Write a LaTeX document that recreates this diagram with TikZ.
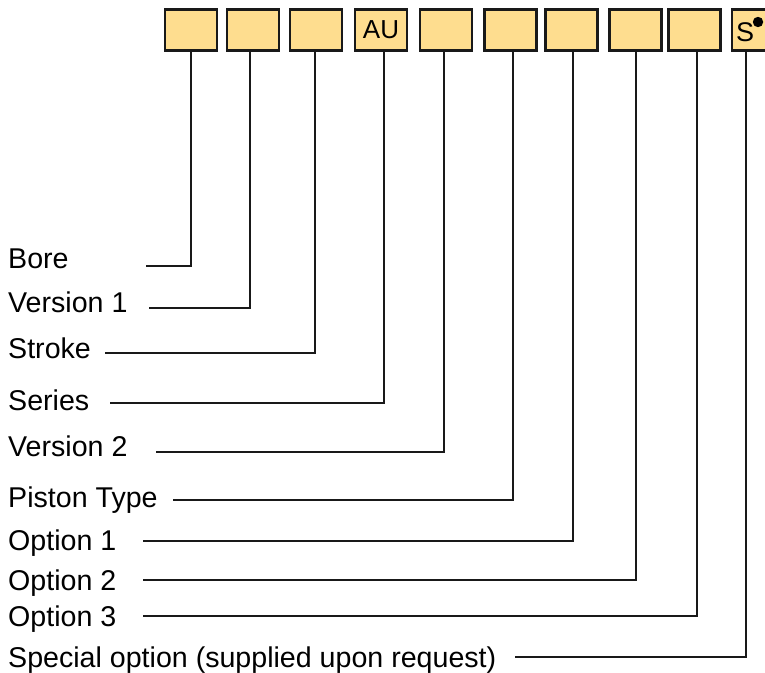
\documentclass[tikz,border=0pt]{standalone}
\usepackage{fontspec}
\setmainfont{Liberation Sans}
\definecolor{boxfill}{RGB}{254,221,143}
\begin{document}
\begin{tikzpicture}[x=1pt,y=-1pt,
  codebox/.style={draw=black!90,line width=2.4pt,fill=boxfill,minimum width=52pt,minimum height=41pt,inner sep=0pt,font=\fontsize{26}{28}\selectfont},
  lbl/.style={anchor=base west,inner sep=0pt,font=\fontsize{28.6}{30}\selectfont},
  conn/.style={draw=black!90,line width=2pt}]
\useasboundingbox (0,0) rectangle (765,672);
\begin{scope}
\clip (0,0) rectangle (765,672);
\node[codebox] (b1) at (191,30) {};
\node[codebox] (b2) at (253,30) {};
\node[codebox] (b3) at (316,30) {};
\node[codebox] (b4) at (381,30) {AU};
\node[codebox] (b5) at (446,30) {};
\node[codebox] (b6) at (510.5,30) {};
\node[codebox] (b7) at (571.5,30) {};
\node[codebox] (b8) at (635.5,30) {};
\node[codebox] (b9) at (694.5,30) {};
\node[codebox] (b10) at (758,30) {};
\end{scope}
\node[inner sep=0pt,font=\fontsize{27}{28}\selectfont] (s10) at (745,32) {S};
\fill[black] (758,22) circle (5.2);

\node[lbl] (t1) at (8,268) {Bore};
\node[lbl] (t2) at (8,312) {Version 1};
\node[lbl] (t3) at (8,358) {Stroke};
\node[lbl] (t4) at (8,410) {Series};
\node[lbl] (t5) at (8,456) {Version 2};
\node[lbl] (t6) at (8,507) {Piston Type};
\node[lbl] (t7) at (8,550) {Option 1};
\node[lbl] (t8) at (8,590) {Option 2};
\node[lbl] (t9) at (8,626) {Option 3};
\node[lbl] (t10) at (8,667) {Special option (supplied upon request)};

\coordinate (l1) at (146,266);
\coordinate (l2) at (149,308);
\coordinate (l3) at (105,353);
\coordinate (l4) at (110,403);
\coordinate (l5) at (156,452);
\coordinate (l6) at (173,500);
\coordinate (l7) at (143,541);
\coordinate (l8) at (143,580);
\coordinate (l9) at (143,616);
\coordinate (l10) at (515,657);

\draw[conn] (l1) -| ([xshift=0]b1.south);
\draw[conn] (l2) -| ([xshift=-3]b2.south);
\draw[conn] (l3) -| ([xshift=-1]b3.south);
\draw[conn] (l4) -| ([xshift=3]b4.south);
\draw[conn] (l5) -| ([xshift=-2]b5.south);
\draw[conn] (l6) -| ([xshift=2.5]b6.south);
\draw[conn] (l7) -| ([xshift=1.5]b7.south);
\draw[conn] (l8) -| ([xshift=0.5]b8.south);
\draw[conn] (l9) -| ([xshift=2.5]b9.south);
\draw[conn] (l10) -| ([xshift=-12]b10.south);
\end{tikzpicture}
\end{document}
